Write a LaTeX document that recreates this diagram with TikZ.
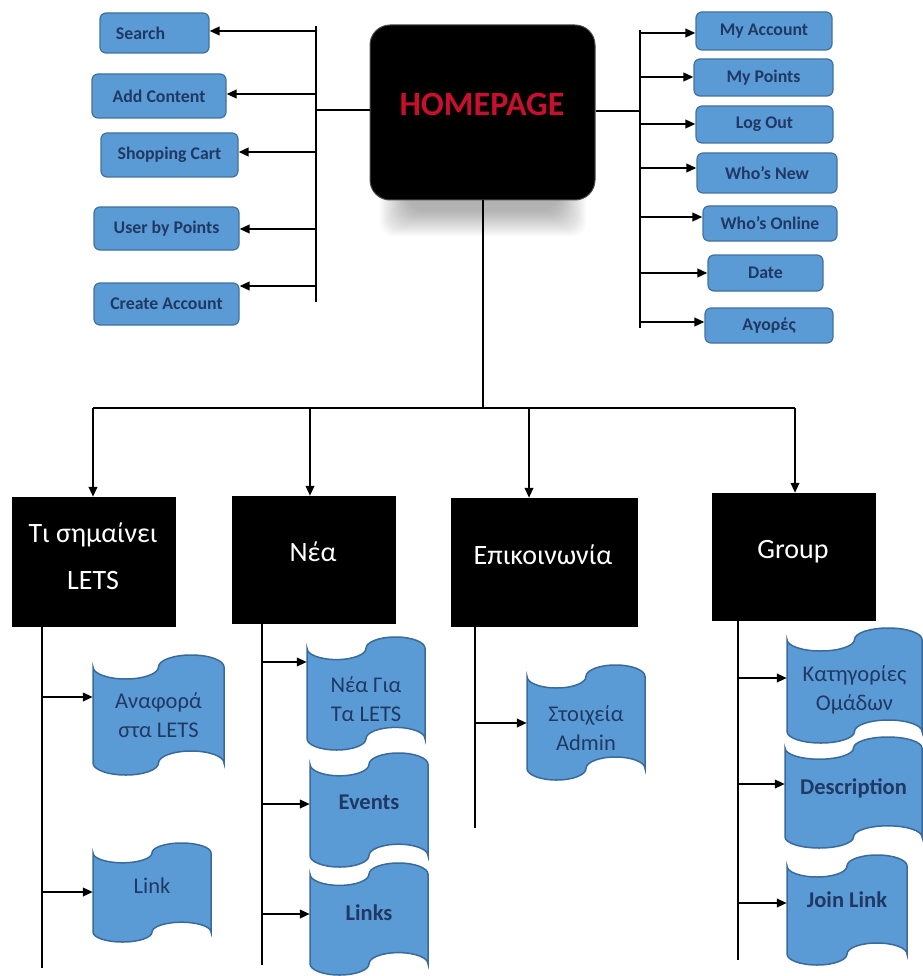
\documentclass[tikz,border=0pt]{standalone}
\usepackage{fontspec}
\setmainfont{Carlito}
\usetikzlibrary{arrows.meta,calc}
\definecolor{boxfill}{HTML}{5B9BD5}
\definecolor{boxline}{HTML}{41719C}
\definecolor{tapeline}{HTML}{3A6A9A}
\definecolor{navy}{HTML}{1F3864}
\definecolor{homered}{HTML}{C8102E}
\newcommand\tape[7]{%
  \filldraw[tapestyle] (#2,#3+0.1*#5)
    arc[start angle=180,end angle=0,x radius=#4/4,y radius=#5/10]
    arc[start angle=180,end angle=360,x radius=#4/4,y radius=#5/10]
    -- ++(0,0.8*#5)
    arc[start angle=0,end angle=-180,x radius=#4/4,y radius=#5/10]
    arc[start angle=0,end angle=180,x radius=#4/4,y radius=#5/10]
    -- cycle;
  \node[tapetext,minimum width=#4pt,minimum height=#5pt,#6] (#1) at (#2+#4/2,#3+#5/2) {#7};}
\begin{document}
\begin{tikzpicture}[x=1pt,y=-1pt,
  arr/.style={line width=2.2pt,-{Triangle[length=10pt,width=8.5pt]}},
  bus/.style={line width=2.6pt},
  link/.style={line width=1.6pt},
  topbox/.style={draw=boxline,line width=1.2pt,fill=boxfill,rounded corners=6pt,inner sep=0pt,text=navy,font=\fontsize{17.8}{20}\selectfont\bfseries},
  catbox/.style={fill=black,draw=black,inner sep=0pt},
  cattext/.style={text=white,font=\fontsize{28}{47}\selectfont,align=center,inner sep=0pt},
  tapestyle/.style={fill=boxfill,draw=tapeline,line width=1.5pt},
  tapetext/.style={text=navy,font=\fontsize{22.5}{29}\selectfont,align=center,inner sep=0pt},
  tapebold/.style={font=\fontsize{22.5}{29}\selectfont\bfseries},
  homebox/.style={fill=black,draw=black!70,line width=1pt,rounded corners=20pt,inner sep=0pt},
  hometext/.style={text=homered,font=\fontsize{34}{38}\selectfont\bfseries,inner sep=0pt}]
\useasboundingbox (0,0) rectangle (922,976);
% homepage shadow and box
\foreach \i in {0,...,14} {\fill[black,opacity=0.022,rounded corners=14pt] (380+2*\i,180+\i*0.6) rectangle (586-2*\i,236-1.8*\i);}
\node[homebox,minimum width=225pt,minimum height=175pt] (home) at (482.5,112.5) {};
\node[hometext] (hometitle) at (482,104) {HOMEPAGE};
% left boxes
\node[topbox,minimum width=109pt,minimum height=40pt] (search) at (154.5,33) {Search\hspace*{28pt}};
\node[topbox,minimum width=134pt,minimum height=44pt] (addc) at (159,96) {Add Content};
\node[topbox,minimum width=137pt,minimum height=44pt] (shop) at (169.5,155) {Shopping Cart};
\node[topbox,minimum width=145pt,minimum height=43pt] (userp) at (166.5,228.5) {User by Points};
\node[topbox,minimum width=145pt,minimum height=42pt] (create) at (166.5,304) {Create Account};
% right boxes
\node[topbox,minimum width=136pt,minimum height=38pt] (acct) at (764,31) {My Account};
\node[topbox,minimum width=139pt,minimum height=37pt] (pts) at (763.5,77.5) {My Points};
\node[topbox,minimum width=137pt,minimum height=37pt] (logout) at (764.5,124.5) {Log Out};
\node[topbox,minimum width=140pt,minimum height=40pt] (whonew) at (767,173) {Who's New};
\node[topbox,minimum width=134pt,minimum height=35pt] (online) at (770,223.5) {Who's Online};
\node[topbox,minimum width=115pt,minimum height=36pt] (date) at (765.5,273) {Date};
\node[topbox,minimum width=128pt,minimum height=35pt] (agores) at (769,325.5) {Αγορές};
% category boxes
\node[catbox,minimum width=163pt,minimum height=129pt] (b1) at (93.5,561.5) {};
\node[catbox,minimum width=163pt,minimum height=127pt] (b2) at (313.5,559.5) {};
\node[catbox,minimum width=186pt,minimum height=128pt] (b3) at (544,562) {};
\node[catbox,minimum width=163pt,minimum height=127pt] (b4) at (793.5,556.5) {};
\node[cattext] (t1) at (93,556) {Τι σημαίνει\\LETS};
\node[cattext] (t2) at (313,552) {Νέα};
\node[cattext] (t3) at (543,555) {Επικοινωνία};
\node[cattext] (t4) at (793,552) {Group};
% tapes
\tape{tA}{93}{655}{131}{120}{}{Αναφορά\\στα LETS}
\tape{tB}{93}{843}{118}{99}{yshift=7pt}{Link}
\tape{tC}{307}{637}{118}{113}{yshift=-6pt}{Νέα Για\\Τα LETS}
\tape{tD}{310}{753}{118}{114}{yshift=8pt,tapebold}{Events}
\tape{tE}{310}{863}{118}{112}{yshift=6pt,tapebold}{Links}
\tape{tF}{527}{665}{118}{115}{yshift=-6pt}{Στοιχεία\\Admin}
\tape{tG}{787}{628}{135}{115}{yshift=-4pt}{Κατηγορίες\\Ομάδων}
\tape{tH}{785}{737}{137}{111}{yshift=4pt,tapebold}{Description}
\tape{tI}{787}{855}{120}{110}{yshift=10pt,tapebold}{Join Link}
% left bus
\draw[bus] (316,26) -- (316,302);
\coordinate (lj) at (316,110);
\draw[link] (lj) -- (lj -| home.west);
\coordinate (la1) at (316,31);
\coordinate (la2) at (316,94);
\coordinate (la3) at (316,152);
\coordinate (la4) at (316,229);
\coordinate (la5) at (316,286);
\draw[arr] (la1) -- (la1 -| search.east);
\draw[arr] (la2) -- (la2 -| addc.east);
\draw[arr] (la3) -- (la3 -| shop.east);
\draw[arr] (la4) -- (la4 -| userp.east);
\draw[arr] (la5) -- (la5 -| create.east);
% right bus
\draw[bus] (640,30) -- (640,328);
\coordinate (rj) at (640,111);
\draw[link] (rj) -- (rj -| home.east);
\coordinate (ra1) at (640,33);
\coordinate (ra2) at (640,77);
\coordinate (ra3) at (640,124);
\coordinate (ra4) at (640,168);
\coordinate (ra5) at (640,217);
\coordinate (ra6) at (640,273);
\coordinate (ra7) at (640,322);
\draw[arr] (ra1) -- (ra1 -| acct.west);
\draw[arr] (ra2) -- (ra2 -| pts.west);
\draw[arr] (ra3) -- (ra3 -| logout.west);
\draw[arr] (ra4) -- (ra4 -| whonew.west);
\draw[arr] (ra5) -- (ra5 -| online.west);
\draw[arr] (ra6) -- (ra6 -| date.west);
\draw[arr] (ra7) -- (ra7 -| agores.west);
% homepage down to categories
\coordinate (hj) at (482.5,408);
\draw[line width=2pt] (home.south) -- (hj);
\coordinate (d1) at (93,408);
\coordinate (d2) at (310,408);
\coordinate (d3) at (529,408);
\coordinate (d4) at (795,408);
\draw[bus] (d1) -- (d4);
\draw[arr] (d1) -- (d1 |- b1.north);
\draw[arr] (d2) -- (d2 |- b2.north);
\draw[arr] (d3) -- (d3 |- b3.north);
\draw[arr] (d4) -- (d4 |- b4.north);
% columns
\coordinate (c1) at (42,968);
\coordinate (c2) at (262,965);
\coordinate (c3) at (475,828);
\coordinate (c4) at (738,960);
\draw[bus] (c1 |- b1.south) -- (c1);
\draw[bus] (c2 |- b2.south) -- (c2);
\draw[bus] (c3 |- b3.south) -- (c3);
\draw[bus] (c4 |- b4.south) -- (c4);
\coordinate (a1) at (42,697);
\coordinate (a2) at (42,892);
\coordinate (a3) at (262,662);
\coordinate (a4) at (262,804);
\coordinate (a5) at (262,914);
\coordinate (a6) at (475,723);
\coordinate (a7) at (738,678);
\coordinate (a8) at (738,784);
\coordinate (a9) at (738,903);
\draw[arr] (a1) -- (a1 -| tA.west);
\draw[arr] (a2) -- (a2 -| tB.west);
\draw[arr] (a3) -- (a3 -| tC.west);
\draw[arr] (a4) -- (a4 -| tD.west);
\draw[arr] (a5) -- (a5 -| tE.west);
\draw[arr] (a6) -- (a6 -| tF.west);
\draw[arr] (a7) -- (a7 -| tG.west);
\draw[arr] (a8) -- (a8 -| tH.west);
\draw[arr] (a9) -- (a9 -| tI.west);
\end{tikzpicture}
\end{document}
